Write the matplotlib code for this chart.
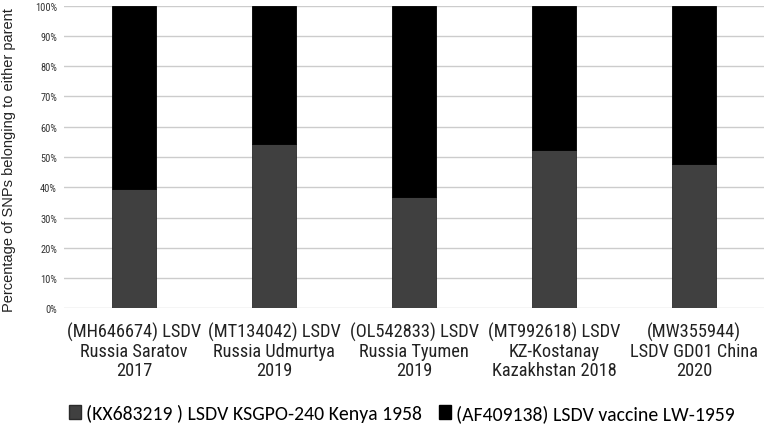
import matplotlib
matplotlib.use("Agg")
import matplotlib.pyplot as plt
from matplotlib.ticker import PercentFormatter
from matplotlib.patches import Patch

categories = [
    "(MH646674) LSDV\nRussia Saratov\n2017",
    "(MT134042) LSDV\nRussia Udmurtya\n2019",
    "(OL542833) LSDV\nRussia Tyumen\n2019",
    "(MT992618) LSDV\nKZ-Kostanay\nKazakhstan 2018",
    "(MW355944)\nLSDV GD01 China\n2020",
]
kenya = [39.3, 54.2, 36.9, 52.3, 47.6]
vaccine = [100 - v for v in kenya]
series_names = ["(KX683219 ) LSDV KSGPO-240 Kenya 1958", "(AF409138) LSDV vaccine LW-1959"]
yticks = list(range(0, 101, 10))

narrow = ["Roboto Condensed", "Archivo Narrow", "DejaVu Sans"]

fig = plt.figure(figsize=(7.67, 4.27), dpi=100)
ax = fig.add_axes([64/767, 1 - 309.3/427, 700/767, 302.6/427])

x = range(len(categories))
c1, c2 = "#404040", "#000000"
ax.bar(x, kenya, width=0.314, color=c1, edgecolor="#2a2a2a", linewidth=0.6, zorder=3)
ax.bar(x, vaccine, bottom=kenya, width=0.314, color=c2, edgecolor="#000000", linewidth=0.6, zorder=3)

ax.set_xlim(-0.5, len(categories) - 0.5)
ax.set_ylim(0, 100)
ax.set_yticks(yticks)
ax.yaxis.set_major_formatter(PercentFormatter(decimals=0))
ax.grid(axis="y", color="#cccccc", linewidth=1.0, zorder=0)
for s in ax.spines.values():
    s.set_visible(False)
ax.tick_params(axis="both", length=0)
ax.tick_params(axis="y", labelsize=7.5, pad=5, labelcolor="#333333")
ax.set_xticks(list(x))
ax.set_xticklabels(categories, fontsize=13.2, family=narrow, linespacing=1.05, color="#222222")
ax.tick_params(axis="x", pad=10)
for lbl in ax.get_yticklabels():
    lbl.set_family(narrow)

fig.text(9/767, 1 - 160/427, "Percentage of SNPs belonging to either parent", rotation=90,
         va="center", ha="center", fontsize=10.5, family=["Liberation Sans", "DejaVu Sans"], color="#222222")

handles = [Patch(facecolor=c1, edgecolor="#2a2a2a"), Patch(facecolor=c2, edgecolor="#000000")]
fig.legend(handles, series_names, loc="center", bbox_to_anchor=(402/767, 1 - 414/427), ncol=2,
           frameon=False, prop={"family": ["Carlito", "DejaVu Sans"], "size": 14.2},
           handlelength=0.6, handleheight=0.75, handletextpad=0.25, columnspacing=0.9)

fig.savefig("out.png", dpi=100)
